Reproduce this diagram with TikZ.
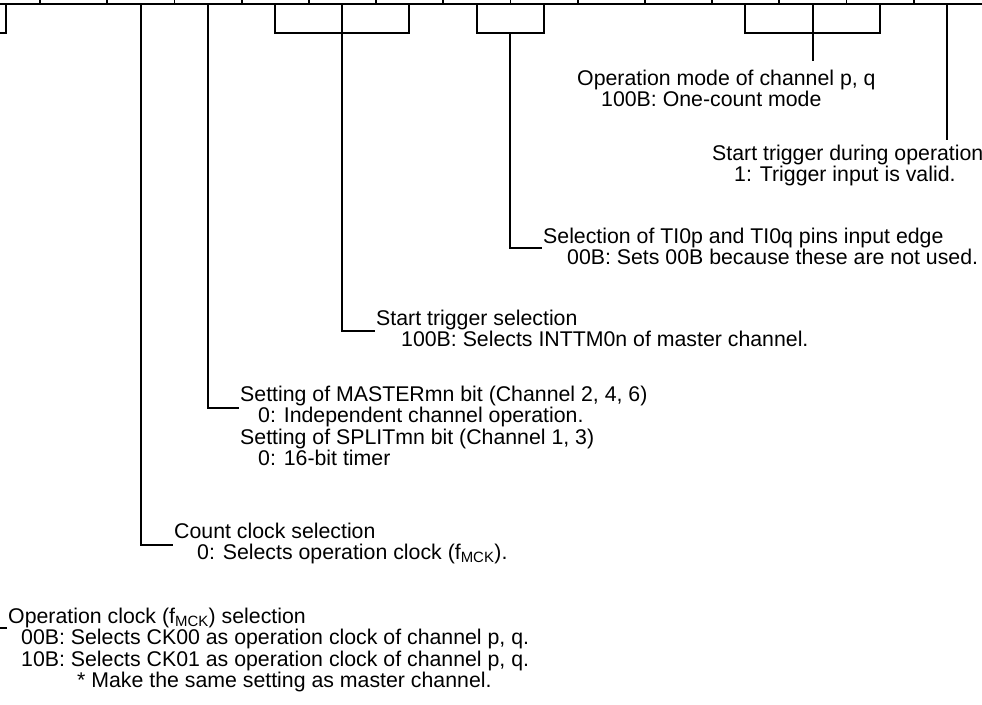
\documentclass[tikz,border=0pt]{standalone}
\usepackage{fontspec}
\setmainfont{Liberation Sans}
\usepackage{tikz}
\usetikzlibrary{calc}

\begin{document}
\begin{tikzpicture}[
    x=1pt, y=-1pt,
    regline/.style={line width=2.4pt},
    tick/.style={line width=1.8pt},
    leader/.style={line width=2pt},
    note/.style={anchor=north west, inner sep=0pt, align=left,
                 font=\fontsize{21.3}{21.5}\selectfont}
]
\useasboundingbox (0,0) rectangle (982,704);
\clip (0,0) rectangle (982,704);

% Register bits (bit 15 lies off the left edge)
\foreach \b in {0,...,15}
    \coordinate (b\b) at ({947-67.2*\b},4);
\foreach \k in {0,...,13}
    \draw[tick] ({913.6-67.2*\k},-2) -- ++(0,6);
\draw[regline] (-10,4) -- (992,4);

% Field descriptions (top edge = first baseline - 15.5)
\node[note] (mode) at (577,69.5) {Operation mode of channel p, q\\\hspace*{24pt}100B: One-count mode};
\node[note] (trg) at (712,144.5) {Start trigger during operation\\\hspace*{22pt}1: Trigger input is valid.};
\node[note] (cis) at (543,227.5) {Selection of TI0p and TI0q pins input edge\\\hspace*{24pt}00B: Sets 00B because these are not used.};
\node[note] (sts) at (376,309.5) {Start trigger selection\\\hspace*{25pt}100B: Selects INTTM0n of master channel.};
\node[note] (mas) at (240,385.5) {Setting of MASTERmn bit (Channel 2, 4, 6)\\\hspace*{18pt}0: Independent channel operation.\\Setting of SPLITmn bit (Channel 1, 3)\\\hspace*{18pt}0: 16-bit timer};
\node[note] (ccs) at (174,522.5) {Count clock selection\\\hspace*{23pt}0: Selects operation clock (f\textsubscript{MCK}).};
\node[note] (cks) at (8,607.5) {Operation clock (f\textsubscript{MCK}) selection\\\hspace*{13pt}00B: Selects CK00 as operation clock of channel p, q.\\\hspace*{13pt}10B: Selects CK01 as operation clock of channel p, q.\\\hspace*{69pt}* Make the same setting as master channel.};

% Leaders
\draw[leader] (b15) -- ++(0,29) -| (b14);
\draw[leader] ($(b15)!.5!(b14)+(0,29)$) |- ([shift={(-1,20.5)}]cks.north west);
\draw[leader] (b12) |- ([shift={(-1,22.5)}]ccs.north west);
\draw[leader] (b11) |- ([shift={(-1,22.5)}]mas.north west);
\draw[leader] (b10) -- ++(0,29) -| (b8);
\draw[leader] (b9) |- ([shift={(-1,21.5)}]sts.north west);
\draw[leader] (b7) -- ++(0,29) -| (b6);
\draw[leader] ($(b7)!.5!(b6)+(0,29)$) |- ([shift={(-1,20.5)}]cis.north west);
\draw[leader] (b3) -- ++(0,29) -| (b1);
\draw[leader] (b2) -- ([yshift=9pt]b2 |- mode.north);
\draw[leader] (b0) -- ([yshift=5pt]b0 |- trg.north);

\end{tikzpicture}
\end{document}
